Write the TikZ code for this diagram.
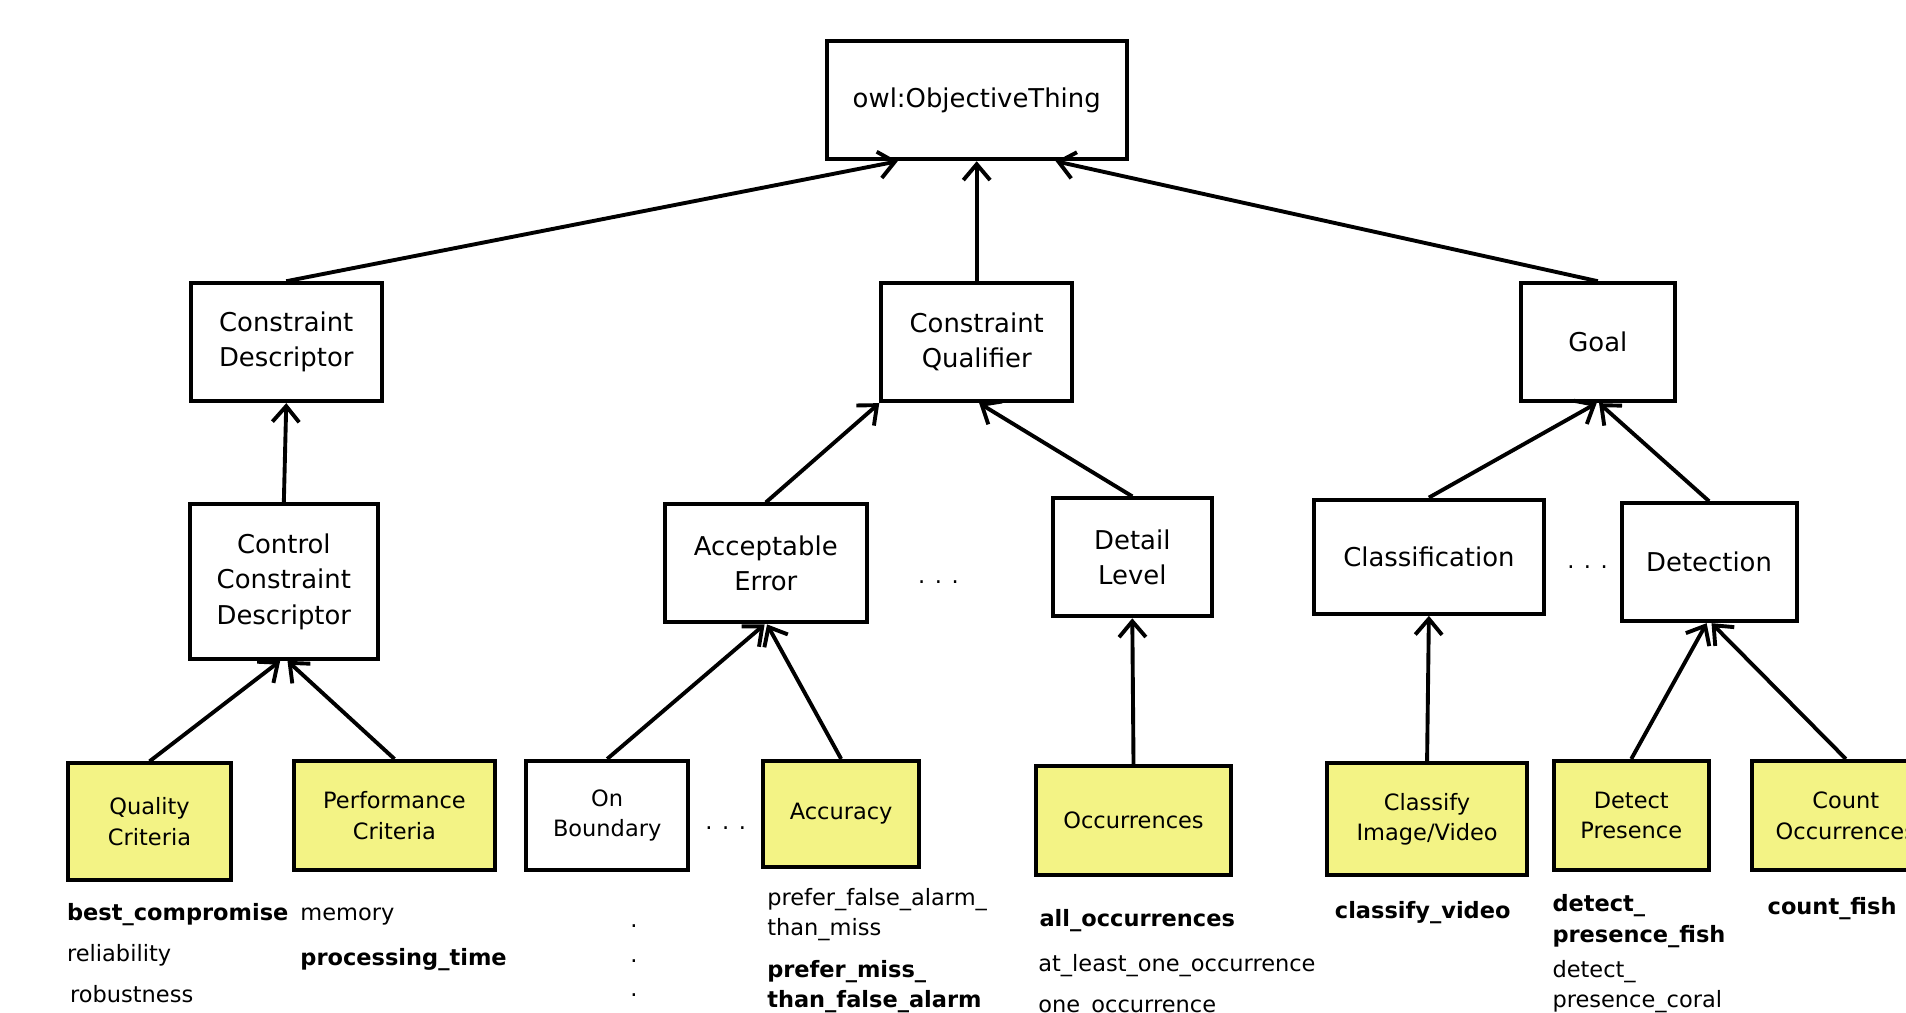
\documentclass[tikz,border=0pt]{standalone}
\usepackage{fontspec}
\setmainfont{DejaVu Sans}
\usetikzlibrary{arrows.meta,calc}
\definecolor{boxyellow}{RGB}{243,243,133}
\tikzset{
  big/.style={font=\fontsize{21.3}{29}\selectfont},
  small/.style={font=\fontsize{18.5}{25}\selectfont},
  cls/.style={draw=black, line width=3.3pt, fill=white, inner sep=0pt, align=center, big},
  leaf/.style={draw=black, line width=3.3pt, fill=boxyellow, inner sep=0pt, align=center, small},
  leafw/.style={leaf, fill=white},
  isa/.style={line width=3.2pt, -{Straight Barb[length=13pt,width=22pt]}},
  val/.style={anchor=base west, inner sep=0pt, align=left, font=\fontsize{18.5}{25}\selectfont},
  bval/.style={anchor=base west, inner sep=0pt, align=left, font=\fontsize{18.5}{25}\selectfont\bfseries},
  etc/.style={anchor=base, inner sep=0pt, font=\fontsize{18.5}{25}\selectfont},
}
\begin{document}
\begin{tikzpicture}[x=1pt,y=-1pt]
\clip (0,0) rectangle (1568,833);
\fill[white] (0,0) rectangle (1568,833);

% top
\node[cls, minimum width=247, minimum height=97] (owl) at (803.5,82.5) {owl:ObjectiveThing};
% level 2
\node[cls, minimum width=157, minimum height=97] (cd) at (235.5,281.5) {Constraint\\Descriptor};
\node[cls, minimum width=157, minimum height=97] (cq) at (803.5,281.5) {Constraint\\Qualifier};
\node[cls, minimum width=127, minimum height=97] (goal) at (1314.5,281.5) {Goal};
% level 3
\node[cls, minimum width=155, minimum height=127] (ccd) at (233.5,478.5) {Control\\Constraint\\Descriptor};
\node[cls, minimum width=166, minimum height=97] (ae) at (630,463.5) {Acceptable\\Error};
\node[cls, minimum width=131, minimum height=97] (dl) at (931.5,458.5) {Detail\\Level};
\node[cls, minimum width=189, minimum height=94] (clf) at (1175.5,458) {Classification};
\node[cls, minimum width=144, minimum height=97] (det) at (1406,462.5) {Detection};
\node[etc] (dots1) at (772,480) {. . .};
\node[etc] (dots2) at (1306,468) {. . .};
% level 4
\node[leaf, minimum width=134, minimum height=96] (qc) at (123,676) {Quality\\Criteria};
\node[leaf, minimum width=165, minimum height=90] (pc) at (324.5,671) {Performance\\Criteria};
\node[leafw, minimum width=133, minimum height=90] (ob) at (499.5,671) {On\\Boundary};
\node[etc] (dots3) at (597,682) {. . .};
\node[leaf, minimum width=128, minimum height=87] (acc) at (692,669.5) {Accuracy};
\node[leaf, minimum width=161, minimum height=90] (occ) at (932.5,675) {Occurrences};
\node[leaf, minimum width=164, minimum height=92] (civ) at (1174,674) {Classify\\Image/Video};
\node[leaf, minimum width=128, minimum height=90] (dp) at (1342,671) {Detect\\Presence};
\node[leaf, minimum width=155, minimum height=90] (co) at (1518.5,671) {Count\\Occurrences};

% connectors
\draw[isa] (cd.north) -- ($(owl.south)+(-65,0)$);
\draw[isa] (cq.north) -- (owl.south);
\draw[isa] (goal.north) -- ($(owl.south)+(65,0)$);
\draw[isa] (ccd.north) -- (cd.south);
\draw[isa] (ae.north) -- (cq.south west);
\draw[isa] (dl.north) -- ($(cq.south)+(2,0)$);
\draw[isa] (clf.north) -- ($(goal.south)+(-1,0)$);
\draw[isa] (det.north) -- ($(goal.south)+(1,0)$);
\draw[isa] (qc.north) -- ($(ccd.south)+(-3,0)$);
\draw[isa] (pc.north) -- ($(ccd.south)+(3,0)$);
\draw[isa] (ob.north) -- ($(ae.south)+(-1,0)$);
\draw[isa] (acc.north) -- ($(ae.south)+(1,0)$);
\draw[isa] (occ.north) -- (dl.south);
\draw[isa] (civ.north) -- (clf.south);
\draw[isa] (dp.north) -- ($(det.south)+(-2,0)$);
\draw[isa] (co.north) -- ($(det.south)+(2,0)$);

% values
\node[bval] (v1) at (55,757) {best\_compromise};
\node[val] (v2) at (55,791) {reliability};
\node[val] (v3) at (57.5,825) {robustness};
\node[val] (v4) at (247,757) {memory};
\node[bval] (v5) at (247,794) {processing\_time};
\node[etc] (d1) at (521.5,763) {.};
\node[etc] (d2) at (521.5,792) {.};
\node[etc] (d3) at (521.5,820) {.};
\node[val] (v6) at (631,770) {prefer\_false\_alarm\_\\than\_miss};
\node[bval] (v7) at (631,829) {prefer\_miss\_\\than\_false\_alarm};
\node[bval] (v8) at (855,762) {all\_occurrences};
\node[val] (v9) at (854,799) {at\_least\_one\_occurrence};
\node[val] (v10) at (854,833) {one\_occurrence};
\node[bval] (v11) at (1098,756) {classify\_video};
\node[bval] (v12) at (1277,775) {detect\_\\presence\_fish};
\node[val] (v13) at (1277,829) {detect\_\\presence\_coral};
\node[bval] (v14) at (1454,752) {count\_fish};
\end{tikzpicture}
\end{document}
